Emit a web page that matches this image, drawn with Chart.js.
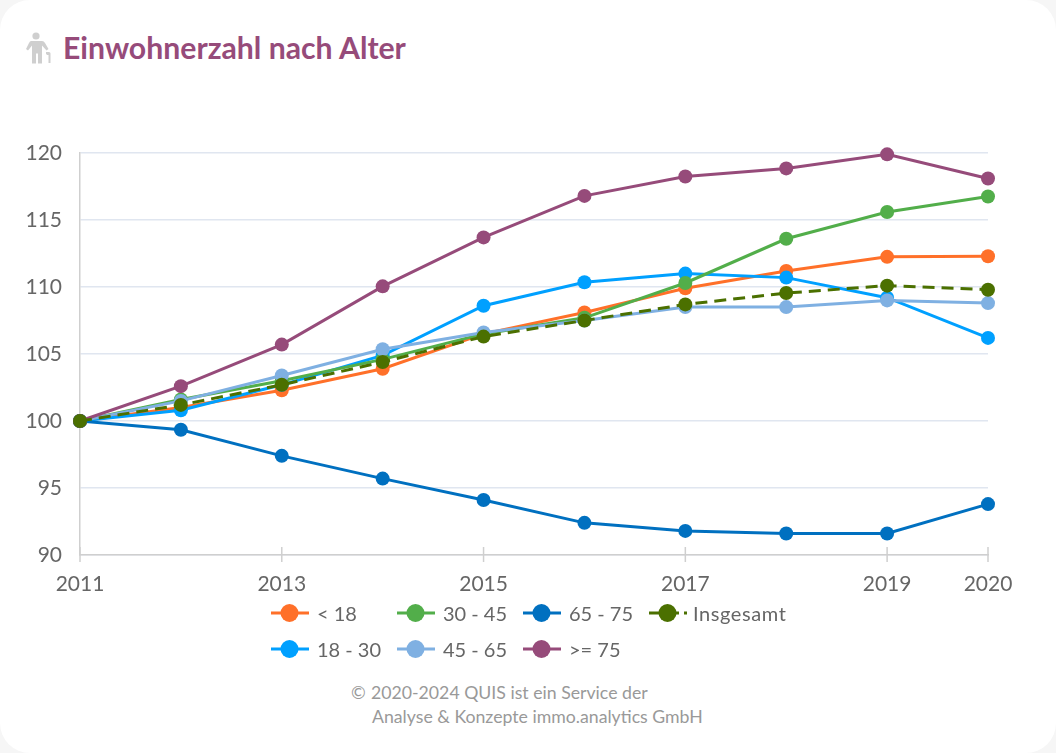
<!DOCTYPE html>
<html lang="de">
<head>
    <meta charset="UTF-8">
    <title>Einwohnerzahl nach Alter</title>
    <script src="https://cdn.jsdelivr.net/npm/chart.js"></script>
    <style>
        html, body {
            margin: 0;
            padding: 0;
            background-color: #f6f6f6;
        }
        .card {
            position: relative;
            width: 1056px;
            height: 753px;
            background-color: #fff;
            border-radius: 30px;
            overflow: hidden;
            font-family: 'Lato', 'Open Sans', sans-serif;
        }
        .icon {
            position: absolute;
            left: 25px;
            top: 32px;
        }
        h1 {
            position: absolute;
            left: 63px;
            top: 27px;
            margin: 0;
            font-size: 30.2px;
            line-height: 40px;
            font-weight: 700;
            color: #964b7a;
        }
        .chart-box {
            position: absolute;
            left: 0;
            top: 0;
            width: 1056px;
            height: 600px;
        }
        #legend {
            position: absolute;
            left: 271px;
            top: 595px;
            display: grid;
            grid-template-rows: 36px 36px;
            grid-auto-columns: 126px;
            grid-auto-flow: column;
        }
        .legend-item {
            display: flex;
            align-items: center;
            font-size: 20px;
            color: #666;
            white-space: nowrap;
        }
        .legend-item svg {
            flex-shrink: 0;
            margin-right: 8px;
        }
        .legend-item.total svg {
            margin-right: 6px;
        }
        .legend-item.total span {
            letter-spacing: 0.6px;
        }
        .copyright {
            position: absolute;
            left: 351px;
            top: 681px;
            margin: 0;
            font-size: 17.7px;
            line-height: 24px;
            color: #999;
        }
        .copyright i {
            display: inline-block;
            width: 20px;
            font-style: normal;
        }
        .copyright span {
            display: block;
            padding-left: 21px;
        }
    </style>
</head>
<body>
    <div class="card">
        <svg class="icon" width="26" height="32" viewBox="0 0 26 32" fill="#cfcfcf">
            <circle cx="11" cy="4" r="3.6"/>
            <path d="M5 9 h12 q2 0 3 2 l3.5 6 -2 1.5 -4.5 -5 v18 h-4 v-10 h-2 v10 h-4 v-18 l-4 5 -2 -1.5 3 -6 q1 -2 2 -2z"/>
            <path d="M21 20 h3 q1.5 0 1.5 1.5 v9.5 h-2 v-8 h-1.5 q-1.5 -1 -1 -3z"/>
        </svg>
        <h1>Einwohnerzahl nach Alter</h1>
        <div class="chart-box"><canvas id="chart"></canvas></div>
        <div id="legend"></div>
        <p class="copyright"><i>©</i>2020-2024 QUIS ist ein Service der<span>Analyse &amp; Konzepte immo.analytics GmbH</span></p>
    </div>

    <script>
        const years = ['2011', '2012', '2013', '2014', '2015', '2016', '2017', '2018', '2019', '2020'];
        const shownYears = ['2011', '2013', '2015', '2017', '2019', '2020'];

        const seriesNames = ['< 18', '18 - 30', '30 - 45', '45 - 65', '65 - 75', '>= 75', 'Insgesamt'];
        const seriesColors = ['#ff7029', '#00a0ff', '#52ae4a', '#7fb0e2', '#0070c0', '#964b7a', '#4b7000'];

        const under18 = [100, 101.0, 102.3, 103.9, 106.5, 108.1, 109.9, 111.2, 112.25, 112.3];
        const from18to30 = [100, 100.8, 102.7, 104.9, 108.6, 110.35, 111.0, 110.7, 109.2, 106.2];
        const from30to45 = [100, 101.6, 103.0, 104.6, 106.5, 107.7, 110.3, 113.6, 115.6, 116.75];
        const from45to65 = [100, 101.5, 103.4, 105.35, 106.6, 107.5, 108.5, 108.5, 109.0, 108.8];
        const from65to75 = [100, 99.35, 97.4, 95.7, 94.1, 92.4, 91.8, 91.6, 91.6, 93.8];
        const over75 = [100, 102.6, 105.7, 110.05, 113.7, 116.8, 118.25, 118.85, 119.9, 118.1];
        const total = [100, 101.2, 102.7, 104.4, 106.3, 107.5, 108.7, 109.55, 110.1, 109.8];

        const seriesValues = [under18, from18to30, from30to45, from45to65, from65to75, over75, total];

        const datasets = seriesNames.map((name, i) => ({
            label: name,
            data: seriesValues[i],
            borderColor: seriesColors[i],
            backgroundColor: seriesColors[i],
            borderWidth: 3,
            borderDash: name === 'Insgesamt' ? [12, 7] : [],
            pointRadius: 7,
            pointBorderWidth: 0,
            tension: 0,
            fill: false,
            clip: false,
            // chart.js paints low order last, the later series sit on top
            order: seriesNames.length - i
        }));

        // short marks crossing the x axis, only for the labelled years
        const crossTicks = {
            id: 'crossTicks',
            beforeDatasetsDraw(chart) {
                const ctx = chart.ctx;
                const x = chart.scales.x;
                ctx.save();
                ctx.strokeStyle = '#cfcfcf';
                ctx.lineWidth = 1.5;
                x.ticks.forEach((t, i) => {
                    const px = x.getPixelForTick(i);
                    ctx.beginPath();
                    ctx.moveTo(px, x.top - 8);
                    ctx.lineTo(px, x.top + 7);
                    ctx.stroke();
                });
                ctx.restore();
            }
        };

        new Chart(document.getElementById('chart'), {
            type: 'line',
            data: { labels: years, datasets: datasets },
            plugins: [crossTicks],
            options: {
                responsive: true,
                maintainAspectRatio: false,
                animation: false,
                layout: { padding: { left: 0, right: 68, top: 153, bottom: 0 } },
                plugins: {
                    legend: { display: false },
                    tooltip: { enabled: false }
                },
                scales: {
                    x: {
                        offset: false,
                        afterBuildTicks(axis) {
                            axis.ticks = axis.ticks.filter(t => shownYears.includes(years[t.value]));
                        },
                        afterFit(axis) {
                            axis.height = 45;
                        },
                        grid: { display: false },
                        border: { color: '#cfcfcf', width: 1.5 },
                        ticks: {
                            autoSkip: false,
                            maxRotation: 0,
                            padding: 9,
                            color: '#666',
                            font: { family: 'Lato', size: 21 }
                        }
                    },
                    y: {
                        min: 90,
                        max: 120,
                        afterFit(axis) {
                            axis.width = 80;
                        },
                        grid: { color: '#e0e6f0', lineWidth: 1.5, drawTicks: false },
                        border: { color: '#cfcfcf', width: 1.5 },
                        ticks: {
                            stepSize: 5,
                            padding: 18,
                            color: '#666',
                            font: { family: 'Lato', size: 21 }
                        }
                    }
                }
            }
        });

        // legend sits in columns, which the built in one can not do
        const legend = document.getElementById('legend');
        seriesNames.forEach((name, i) => {
            const item = document.createElement('div');
            const isTotal = name === 'Insgesamt';
            item.className = isTotal ? 'legend-item total' : 'legend-item';
            const dash = isTotal ? ' stroke-dasharray="30 5 3 10"' : '';
            item.innerHTML = '<svg width="38" height="20">'
                + '<line x1="0" y1="10" x2="38" y2="10" stroke="' + seriesColors[i] + '" stroke-width="3"' + dash + '/>'
                + '<circle cx="18.5" cy="10" r="9" fill="' + seriesColors[i] + '"/></svg>';
            const text = document.createElement('span');
            text.textContent = name;
            item.appendChild(text);
            legend.appendChild(item);
        });
    </script>
</body>
</html>
